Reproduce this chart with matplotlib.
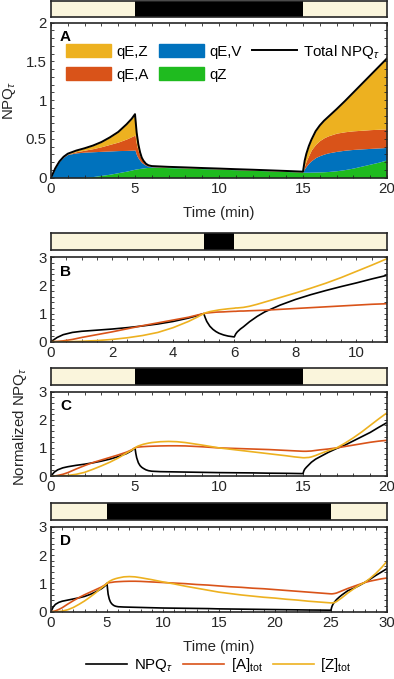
import numpy as np
import matplotlib
matplotlib.use('Agg')
import matplotlib.pyplot as plt
from matplotlib.ticker import MultipleLocator, FuncFormatter
from matplotlib.patches import Patch
from matplotlib.lines import Line2D

plt.rcParams['font.family'] = ['Liberation Sans', 'DejaVu Sans']
plt.rcParams['mathtext.fontset'] = 'custom'
plt.rcParams['mathtext.rm'] = 'Liberation Sans'
plt.rcParams['mathtext.it'] = 'Liberation Sans:italic'
plt.rcParams['mathtext.bf'] = 'Liberation Sans:bold'

# ---------------- data ----------------
# Panel A: cumulative band tops (qZ, +qE,V, +qE,A) and total NPQ
tA = [0, 0.25, 0.5, 0.75, 1, 1.5, 2, 2.5, 3, 3.5, 4, 4.5, 4.8, 5, 5.05, 5.1, 5.2, 5.3, 5.4, 5.5,
      5.65, 5.8, 6, 7, 8, 9, 10, 11, 12, 13, 14, 15, 15.05, 15.1, 15.2, 15.35, 15.5, 15.75, 16,
      16.25, 16.5, 17, 17.5, 18, 18.5, 19, 19.5, 20]
qZ_top = [0, 0, 0, 0, 0, 0, 0.005, 0.015, 0.03, 0.045, 0.065, 0.085, 0.1, 0.11, 0.112, 0.114,
          0.117, 0.12, 0.123, 0.126, 0.13, 0.133, 0.135, 0.13, 0.124, 0.117, 0.11, 0.103, 0.096,
          0.088, 0.08, 0.071, 0.071, 0.071, 0.071, 0.071, 0.072, 0.073, 0.075, 0.077, 0.08, 0.09,
          0.105, 0.125, 0.15, 0.175, 0.2, 0.23]
qEV_top = [0, 0.12, 0.21, 0.265, 0.3, 0.32, 0.33, 0.335, 0.34, 0.345, 0.35, 0.352, 0.355, 0.357,
           0.32, 0.29, 0.25, 0.22, 0.195, 0.18, 0.16, 0.148, 0.142, 0.134, 0.127, 0.12, 0.113,
           0.105, 0.098, 0.09, 0.082, 0.073, 0.1, 0.12, 0.15, 0.19, 0.22, 0.26, 0.285, 0.305,
           0.32, 0.34, 0.355, 0.365, 0.372, 0.378, 0.384, 0.39]
qEA_top = [0, 0.12, 0.21, 0.27, 0.305, 0.335, 0.355, 0.375, 0.4, 0.43, 0.46, 0.5, 0.53, 0.55,
           0.48, 0.42, 0.34, 0.28, 0.235, 0.205, 0.172, 0.155, 0.146, 0.137, 0.13, 0.122, 0.115,
           0.107, 0.1, 0.092, 0.084, 0.075, 0.12, 0.16, 0.22, 0.29, 0.36, 0.43, 0.48, 0.515,
           0.54, 0.575, 0.593, 0.605, 0.612, 0.62, 0.625, 0.63]
total_A = [0, 0.12, 0.21, 0.27, 0.31, 0.35, 0.38, 0.415, 0.46, 0.52, 0.59, 0.69, 0.76, 0.82,
           0.7, 0.58, 0.43, 0.33, 0.26, 0.22, 0.18, 0.16, 0.15, 0.14, 0.133, 0.125, 0.118, 0.11,
           0.103, 0.095, 0.087, 0.078, 0.15, 0.22, 0.31, 0.41, 0.49, 0.6, 0.675, 0.735, 0.785,
           0.885, 0.99, 1.1, 1.21, 1.32, 1.43, 1.54]

# Panel B (normalized)
tB = [0, 0.2, 0.4, 0.7, 1, 1.5, 2, 2.5, 3, 3.5, 4, 4.5, 4.8, 5, 5.05, 5.1, 5.2, 5.3, 5.4, 5.5,
      5.65, 5.8, 6, 6.05, 6.1, 6.2, 6.3, 6.5, 6.75, 7, 7.5, 8, 8.5, 9, 9.5, 10, 10.5, 11]
npq_B = [0, 0.15, 0.25, 0.33, 0.37, 0.41, 0.45, 0.5, 0.56, 0.63, 0.72, 0.84, 0.93, 1.0, 0.85,
         0.72, 0.55, 0.44, 0.36, 0.3, 0.24, 0.2, 0.17, 0.28, 0.35, 0.45, 0.53, 0.71, 0.9, 1.06,
         1.3, 1.5, 1.67, 1.82, 1.96, 2.09, 2.23, 2.36]
A_B = [0, 0.01, 0.03, 0.08, 0.15, 0.25, 0.35, 0.46, 0.57, 0.67, 0.77, 0.87, 0.95, 1.0, 1.01,
       1.02, 1.03, 1.04, 1.05, 1.055, 1.06, 1.07, 1.08, 1.08, 1.085, 1.09, 1.09, 1.1, 1.11, 1.12,
       1.15, 1.18, 1.21, 1.24, 1.27, 1.3, 1.33, 1.35]
Z_B = [0, 0, 0.002, 0.005, 0.015, 0.04, 0.08, 0.14, 0.22, 0.33, 0.5, 0.72, 0.88, 1.0, 1.02,
       1.04, 1.07, 1.09, 1.11, 1.13, 1.15, 1.17, 1.19, 1.2, 1.2, 1.21, 1.22, 1.26, 1.33, 1.41,
       1.57, 1.73, 1.9, 2.08, 2.28, 2.5, 2.72, 2.95]

# Panel C
tC = [0, 0.2, 0.4, 0.7, 1, 1.5, 2, 2.5, 3, 3.5, 4, 4.5, 4.8, 5, 5.05, 5.1, 5.2, 5.3, 5.4, 5.5,
      5.65, 5.8, 6, 6.5, 7, 7.5, 8, 9, 10, 11, 12, 13, 14, 14.5, 15, 15.05, 15.1, 15.2, 15.35,
      15.5, 15.75, 16, 16.5, 17, 17.5, 18, 18.5, 19, 19.5, 20]
npq_C = [0, 0.14, 0.22, 0.29, 0.33, 0.38, 0.42, 0.47, 0.53, 0.6, 0.69, 0.8, 0.9, 1.0, 0.8, 0.65,
         0.47, 0.37, 0.31, 0.27, 0.22, 0.19, 0.17, 0.155, 0.15, 0.145, 0.14, 0.13, 0.12, 0.115,
         0.11, 0.1, 0.095, 0.09, 0.085, 0.18, 0.24, 0.31, 0.4, 0.49, 0.6, 0.68, 0.84, 0.98, 1.1,
         1.25, 1.4, 1.55, 1.73, 1.9]
A_C = [0, 0.0, 0.02, 0.06, 0.12, 0.25, 0.37, 0.48, 0.57, 0.66, 0.75, 0.85, 0.93, 1.0, 1.01, 1.02,
       1.03, 1.035, 1.04, 1.045, 1.05, 1.055, 1.06, 1.07, 1.075, 1.075, 1.07, 1.04, 1.0, 0.98,
       0.96, 0.94, 0.91, 0.895, 0.88, 0.88, 0.88, 0.88, 0.885, 0.89, 0.91, 0.93, 0.96, 1.0, 1.05,
       1.1, 1.15, 1.2, 1.24, 1.27]
Z_C = [0, 0, 0, 0.005, 0.02, 0.06, 0.13, 0.24, 0.36, 0.49, 0.64, 0.82, 0.92, 1.0, 1.02, 1.04,
       1.07, 1.09, 1.11, 1.13, 1.15, 1.17, 1.19, 1.22, 1.23, 1.22, 1.19, 1.1, 1.0, 0.93, 0.86,
       0.79, 0.72, 0.68, 0.65, 0.65, 0.65, 0.655, 0.66, 0.68, 0.73, 0.79, 0.9, 1.0, 1.17, 1.36,
       1.57, 1.8, 2.03, 2.25]

# Panel D
tD = [0, 0.2, 0.4, 0.7, 1, 1.5, 2, 2.5, 3, 3.5, 4, 4.5, 4.8, 5, 5.05, 5.1, 5.2, 5.3, 5.4, 5.5,
      5.65, 5.8, 6, 6.5, 7, 7.5, 8, 9, 10, 11, 12, 13, 14, 15, 16, 17, 18, 19, 20, 21, 22, 23,
      24, 24.5, 25, 25.05, 25.1, 25.2, 25.35, 25.5, 25.75, 26, 26.5, 27, 27.5, 28, 28.5, 29,
      29.5, 30]
npq_D = [0, 0.17, 0.26, 0.33, 0.37, 0.41, 0.45, 0.49, 0.54, 0.61, 0.7, 0.81, 0.9, 1.0, 0.8,
         0.62, 0.45, 0.35, 0.29, 0.25, 0.21, 0.19, 0.175, 0.165, 0.16, 0.155, 0.15, 0.14, 0.13,
         0.125, 0.12, 0.115, 0.11, 0.1, 0.095, 0.09, 0.085, 0.08, 0.075, 0.07, 0.065, 0.06,
         0.057, 0.055, 0.053, 0.14, 0.2, 0.28, 0.36, 0.43, 0.52, 0.6, 0.74, 0.82, 0.92, 1.03,
         1.15, 1.28, 1.4, 1.52]
A_D = [0, 0.01, 0.03, 0.08, 0.14, 0.27, 0.39, 0.5, 0.6, 0.69, 0.78, 0.87, 0.94, 1.0, 1.01,
       1.015, 1.025, 1.03, 1.035, 1.04, 1.05, 1.055, 1.06, 1.07, 1.075, 1.075, 1.07, 1.05, 1.03,
       1.01, 0.99, 0.96, 0.94, 0.91, 0.88, 0.86, 0.83, 0.81, 0.78, 0.75, 0.72, 0.69, 0.66,
       0.645, 0.63, 0.63, 0.63, 0.635, 0.645, 0.66, 0.7, 0.74, 0.82, 0.89, 0.96, 1.03, 1.08,
       1.12, 1.16, 1.19]
Z_D = [0, 0, 0, 0.005, 0.02, 0.07, 0.15, 0.26, 0.38, 0.52, 0.67, 0.84, 0.93, 1.0, 1.02, 1.04,
       1.07, 1.09, 1.11, 1.13, 1.15, 1.17, 1.19, 1.23, 1.24, 1.23, 1.2, 1.13, 1.05, 0.98, 0.9,
       0.83, 0.76, 0.69, 0.64, 0.59, 0.55, 0.51, 0.48, 0.44, 0.41, 0.37, 0.34, 0.325, 0.31,
       0.31, 0.31, 0.315, 0.33, 0.36, 0.43, 0.5, 0.66, 0.8, 0.93, 1.03, 1.18, 1.35, 1.55, 1.78]

# light schedule: (duration, dark start, dark end)
light_A = (20, 5, 15)
light_B = (11, 5, 6)
light_C = (20, 5, 15)
light_D = (30, 5, 25)

# ---------------- style ----------------
YEL, ORA, BLU, GRN = '#EDB120', '#D95319', '#0072BD', '#1FBB1F'
CREAM = '#FAF5DC'
AXC = '#262626'
FS = 10.8

W, H = 394, 679
fig = plt.figure(figsize=(W / 100, H / 100), dpi=100)


def rect(ytop, ybot):
    return [51 / W, 1 - ybot / H, 336 / W, (ybot - ytop) / H]


def light_bar(ytop, ybot, sched):
    ax = fig.add_axes(rect(ytop, ybot))
    dur, d0, d1 = sched
    ax.set_xlim(0, dur)
    ax.set_ylim(0, 1)
    ax.axvspan(0, dur, color=CREAM, lw=0)
    ax.axvspan(d0, d1, color='black', lw=0)
    ax.set_xticks([])
    ax.set_yticks([])
    for s in ax.spines.values():
        s.set_color(AXC)
        s.set_linewidth(1.2)
    return ax


fmt = FuncFormatter(lambda v, p: '{:g}'.format(v))


def style(ax, xmax, xmaj, xmin, ymax, ymaj, ymin, letter):
    ax.set_xlim(0, xmax)
    ax.set_ylim(0, ymax)
    ax.xaxis.set_major_locator(MultipleLocator(xmaj))
    ax.xaxis.set_minor_locator(MultipleLocator(xmin))
    ax.yaxis.set_major_locator(MultipleLocator(ymaj))
    ax.yaxis.set_minor_locator(MultipleLocator(ymin))
    ax.xaxis.set_major_formatter(fmt)
    ax.yaxis.set_major_formatter(fmt)
    ax.tick_params(which='both', direction='in', top=True, right=True, length=2.5,
                   width=0.6, color=AXC, labelcolor=AXC, labelsize=FS, pad=3)
    for s in ax.spines.values():
        s.set_color(AXC)
        s.set_linewidth(1.2)
    ax.annotate(letter, xy=(0, 1), xycoords='axes fraction', xytext=(6.5, -5.5),
                textcoords='offset points', fontsize=11, fontweight='bold', va='top',
                ha='left', color='black')


# ---------------- panel A ----------------
light_bar(1, 16.5, light_A)
axA = fig.add_axes(rect(22.7, 177.7))
axA.fill_between(tA, 0, qZ_top, color=GRN, lw=0)
axA.fill_between(tA, qZ_top, qEV_top, color=BLU, lw=0)
axA.fill_between(tA, qEV_top, qEA_top, color=ORA, lw=0)
axA.fill_between(tA, qEA_top, total_A, color=YEL, lw=0)
axA.plot(tA, total_A, color='black', lw=1.4)
style(axA, 20, 5, 1, 2, 0.5, 0.1, 'A')

handles = [Patch(color=YEL), Patch(color=ORA), Patch(color=BLU), Patch(color=GRN),
           Line2D([], [], color='black', lw=1.4)]
labels = ['qE,Z', 'qE,A', 'qE,V', 'qZ', 'Total NPQ$_\\tau$']
axA.legend(handles, labels, ncol=3, loc='upper left', bbox_to_anchor=(0.045, 0.87),
           frameon=False, fontsize=FS, handlelength=3.0, handleheight=0.95,
           handletextpad=0.35, columnspacing=0.7, labelspacing=0.55, borderaxespad=0,
           borderpad=0)
fig.text(219 / W, 1 - 213 / H, 'Time (min)', ha='center', va='center', fontsize=FS, color=AXC)
fig.text(10 / W, 1 - 100 / H, 'NPQ$_\\tau$', ha='center', va='center', rotation=90,
         fontsize=FS, color=AXC)

# ---------------- panels B-D ----------------
specs = [
    ((233.3, 250), (257.3, 341.7), light_B, tB, npq_B, A_B, Z_B, 11, 2, 0.5, 'B'),
    ((368.3, 385), (391.7, 476), light_C, tC, npq_C, A_C, Z_C, 20, 5, 1, 'C'),
    ((503.3, 520), (526.7, 611.7), light_D, tD, npq_D, A_D, Z_D, 30, 5, 1, 'D'),
]
for (bar, box, sched, t, n, a, z, xmax, xmaj, xmin, letter) in specs:
    light_bar(bar[0], bar[1], sched)
    ax = fig.add_axes(rect(*box))
    ax.plot(t, n, color='black', lw=1.2)
    ax.plot(t, a, color=ORA, lw=1.2)
    ax.plot(t, z, color=YEL, lw=1.2)
    style(ax, xmax, xmaj, xmin, 3, 1, 0.2, letter)

fig.text(20 / W, 1 - 426 / H, 'Normalized NPQ$_\\tau$', ha='center', va='center',
         rotation=90, fontsize=FS, color=AXC)
fig.text(219 / W, 1 - 647 / H, 'Time (min)', ha='center', va='center', fontsize=FS, color=AXC)

leg_h = [Line2D([], [], color='black', lw=1.2), Line2D([], [], color=ORA, lw=1.2),
         Line2D([], [], color=YEL, lw=1.2)]
leg_l = ['NPQ$_\\tau$', '[A]$_{\\rm tot}$', '[Z]$_{\\rm tot}$']
fig.legend(leg_h, leg_l, ncol=3, loc='center', bbox_to_anchor=(219 / W, 1 - 665 / H),
           frameon=False, fontsize=FS, handlelength=2.7, handletextpad=0.45,
           columnspacing=0.7, borderpad=0)

fig.savefig('out.png', dpi=100)
